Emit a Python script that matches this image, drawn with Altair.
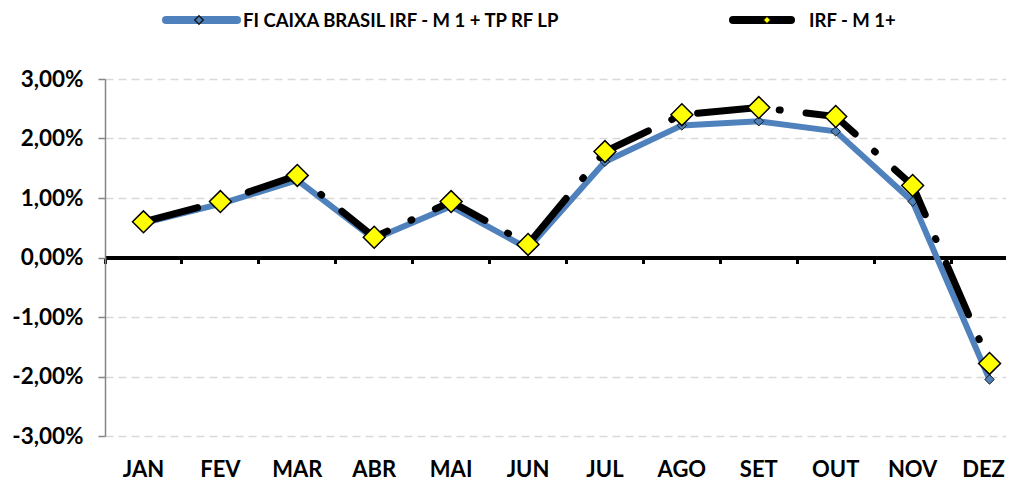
import altair as alt
import pandas as pd

months = ["JAN", "FEV", "MAR", "ABR", "MAI", "JUN", "JUL", "AGO", "SET", "OUT", "NOV", "DEZ"]
fund_name = "FI CAIXA BRASIL IRF - M 1 + TP RF LP"
bench_name = "IRF - M 1+"
fund_values = [0.58, 0.90, 1.30, 0.31, 0.86, 0.15, 1.61, 2.22, 2.29, 2.12, 0.94, -2.05]
bench_values = [0.60, 0.94, 1.38, 0.34, 0.94, 0.22, 1.78, 2.40, 2.52, 2.37, 1.21, -1.78]
y_ticks = [-3, -2, -1, 0, 1, 2, 3]

fund = pd.DataFrame({"month": months, "value": fund_values})
bench = pd.DataFrame({"month": months, "value": bench_values})
leg_fund = pd.DataFrame({"label": [fund_name]})
leg_bench = pd.DataFrame({"label": [bench_name]})

FONT = "Lato"
BLUE = "#4F81BD"

x_enc = alt.X(
    "month:N",
    sort=months,
    bandPosition=0.5,
    scale=alt.Scale(type="band", domain=months, range=[0, 923], paddingInner=0, paddingOuter=0),
    axis=alt.Axis(
        orient="bottom", offset=-178.5, title=None, labelAngle=0,
        domainColor="black", domainWidth=4,
        ticks=True, tickColor="black", tickWidth=3, tickSize=6, bandPosition=0,
        labelPadding=196, labelFont=FONT, labelFontSize=22, labelFontWeight="bold",
        labelColor="black", grid=False,
        labelOffset={"condition": {"test": "datum.value === 'DEZ'", "value": -6}, "value": 0},
    ),
)
y_enc = alt.Y(
    "value:Q",
    scale=alt.Scale(domain=[-3, 3], nice=False, zero=False),
    axis=alt.Axis(
        values=y_ticks, title=None,
        labelExpr="(datum.value < 0 ? '-' : '') + replace(format(abs(datum.value), '.2f'), '.', ',') + '%'",
        grid=True, gridColor="#d9d9d9", gridDash=[8, 5], gridWidth=1.5,
        domainColor="#868686", domainWidth=1.5, tickColor="#868686", tickSize=7, tickWidth=1.5,
        labelPadding=15, labelFont=FONT, labelFontSize=22.5, labelFontWeight="bold", labelColor="black",
    ),
)

fund_line = alt.Chart(fund).mark_line(color=BLUE, strokeWidth=6, strokeJoin="round").encode(x=x_enc, y=y_enc)
fund_pts = alt.Chart(fund).mark_point(
    shape="diamond", filled=True, fill=BLUE, stroke="#1a1a1a", strokeWidth=1, size=90, opacity=1
).encode(x=x_enc, y=y_enc)
bench_line = alt.Chart(bench).mark_line(
    color="black", strokeWidth=7, strokeDash=[56, 26, 1, 26], strokeCap="round"
).encode(x=x_enc, y=y_enc)
bench_pts = alt.Chart(bench).mark_point(
    shape="diamond", filled=True, fill="#FFFF00", stroke="black", strokeWidth=1.5, size=480, opacity=1
).encode(x=x_enc, y=y_enc)

leg1_line = alt.Chart(leg_fund).mark_rule(color=BLUE, strokeWidth=8, strokeCap="round").encode(
    x=alt.value(61), x2=alt.value(132), y=alt.value(-59))
leg1_pt = alt.Chart(leg_fund).mark_point(
    shape="diamond", filled=True, fill=BLUE, stroke="#1a1a1a", strokeWidth=1.5, size=70, opacity=1
).encode(x=alt.value(94), y=alt.value(-59))
leg1_txt = alt.Chart(leg_fund).mark_text(
    align="left", baseline="middle", font=FONT, fontSize=18.5, fontWeight="bold", color="black"
).encode(x=alt.value(138), y=alt.value(-58), text="label:N")

leg2_line = alt.Chart(leg_bench).mark_rule(color="black", strokeWidth=8, strokeCap="round").encode(
    x=alt.value(628), x2=alt.value(686), y=alt.value(-59))
leg2_pt = alt.Chart(leg_bench).mark_point(
    shape="diamond", filled=True, fill="#FFFF00", stroke="black", strokeWidth=1, size=50, opacity=1
).encode(x=alt.value(662), y=alt.value(-59))
leg2_txt = alt.Chart(leg_bench).mark_text(
    align="left", baseline="middle", font=FONT, fontSize=18.5, fontWeight="bold", color="black"
).encode(x=alt.value(704), y=alt.value(-58), text="label:N")

chart = alt.layer(
    fund_line, fund_pts, bench_line, bench_pts,
    leg1_line, leg1_pt, leg1_txt, leg2_line, leg2_pt, leg2_txt,
).properties(
    width=901, height=357,
    autosize=alt.AutoSizeParams(type="none"),
    padding={"left": 97, "top": 71, "right": 0, "bottom": 45},
    background="white",
).configure_view(stroke=None)

chart.save("out.html", embed_options={"renderer": "svg", "actions": False})
